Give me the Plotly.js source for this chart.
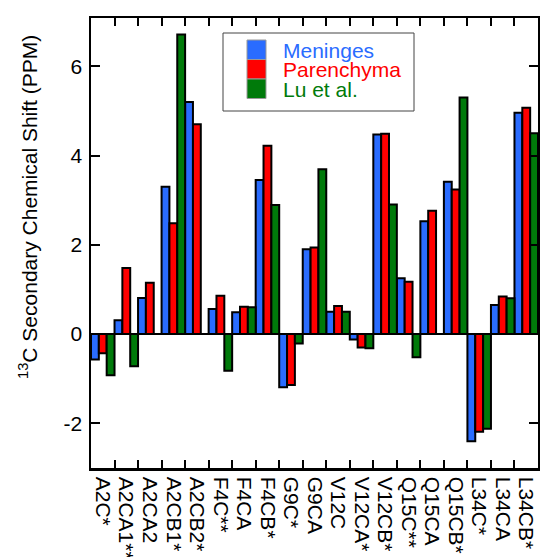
<!DOCTYPE html>
<html>
<head>
<meta charset="utf-8">
<script src="https://cdn.plot.ly/plotly-3.0.1.min.js"></script>
<style>html,body{margin:0;padding:0;background:#fff;} #chart{width:540px;height:557px;}</style>
</head>
<body>
<div id="chart"></div>
<script>
const categories = ["A2C*","A2CA1**","A2CA2","A2CB1*","A2CB2*","F4C**","F4CA","F4CB*","G9C*","G9CA","V12C","V12CA*","V12CB*","Q15C**","Q15CA","Q15CB*","L34C*","L34CA","L34CB*"];
const seriesNames = ["Meninges", "Parenchyma", "Lu et al."];
const meninges   = [-0.57, 0.31, 0.81, 3.30, 5.20, 0.56, 0.49, 3.45, -1.19, 1.90, 0.50, -0.12, 4.47, 1.25, 2.53, 3.41, -2.40, 0.65, 4.96];
const parenchyma = [-0.43, 1.48, 1.15, 2.48, 4.70, 0.86, 0.61, 4.22, -1.14, 1.94, 0.63, -0.30, 4.49, 1.17, 2.76, 3.24, -2.19, 0.84, 5.07];
const luEtAl     = [-0.92, -0.72, null, 6.71, null, -0.82, 0.60, 2.89, -0.21, 3.69, 0.50, -0.32, 2.90, -0.52, null, 5.30, -2.12, 0.80, 4.50];
const yTicks = [-2, 0, 2, 4, 6];

const colors = ["#2a6cff", "#ff0000", "#007a0a"];
const series = [meninges, parenchyma, luEtAl];
const data = series.map((vals, i) => ({
  type: "bar", x: categories, y: vals, name: seriesNames[i], showlegend: false,
  marker: {color: colors[i], line: {color: "#000", width: 2}}
}));

const FF = "Liberation Sans, Arial, Helvetica, sans-serif";
// plot area in pixels: left 91, right 538, top 18, bottom 468
const L = 91, R = 538, T = 18, B = 468;
const px = v => (v - L) / (R - L);
const py = v => (B - v) / (B - T);

const shapes = [
  {type: "rect", xref: "paper", yref: "paper", x0: px(223), x1: px(414), y0: py(111), y1: py(33),
   line: {color: "#444", width: 1}, fillcolor: "#fff", layer: "above"}
];
const annotations = [
  {text: "<sup>13</sup>C Secondary Chemical Shift (PPM)", xref: "paper", yref: "paper",
   x: px(28), y: py(207), xanchor: "center", yanchor: "middle", textangle: -90, showarrow: false,
   font: {family: FF, size: 21, color: "#000"}}
];
const rowTop = [40, 59.5, 79];
seriesNames.forEach((n, i) => {
  shapes.push({type: "rect", xref: "paper", yref: "paper", x0: px(247), x1: px(266),
               y0: py(rowTop[i] + 19.5), y1: py(rowTop[i]), fillcolor: colors[i],
               line: {color: "#999", width: 1}, layer: "above"});
  annotations.push({text: n, xref: "paper", yref: "paper", x: px(281), y: py(rowTop[i] + 10),
                    xanchor: "left", yanchor: "middle", showarrow: false,
                    font: {family: FF, size: 21, color: colors[i]}});
});

const layout = {
  width: 540, height: 557,
  margin: {l: L, r: 540 - R, t: T, b: 557 - B, pad: 0},
  paper_bgcolor: "#fff", plot_bgcolor: "#fff",
  barmode: "group", bargap: 0, bargroupgap: 0,
  font: {family: FF, size: 21, color: "#000"},
  showlegend: false,
  xaxis: {type: "category", tickmode: "array", tickvals: categories, ticktext: categories,
          tickson: "boundaries", ticks: "inside", ticklen: 8, tickwidth: 2,
          tickcolor: "#000", showline: true, linecolor: "#000", linewidth: 2.5, mirror: "ticks",
          tickangle: 90, tickfont: {family: FF, size: 21, color: "#000"}, showgrid: false,
          range: [-0.5, 18.5], ticklabelstandoff: 2},
  yaxis: {range: [-3.0, 7.08], tickvals: yTicks, ticktext: yTicks.map(String), ticks: "inside",
          ticklen: 9, tickwidth: 2, tickcolor: "#000", showline: true, linecolor: "#000", linewidth: 2.5,
          mirror: "ticks", showgrid: false, zeroline: true, zerolinecolor: "#000", zerolinewidth: 2,
          tickfont: {family: FF, size: 21, color: "#000"}, ticklabelstandoff: 2},
  shapes: shapes,
  annotations: annotations
};
Plotly.newPlot("chart", data, layout, {displayModeBar: false, staticPlot: true});
</script>
</body>
</html>
